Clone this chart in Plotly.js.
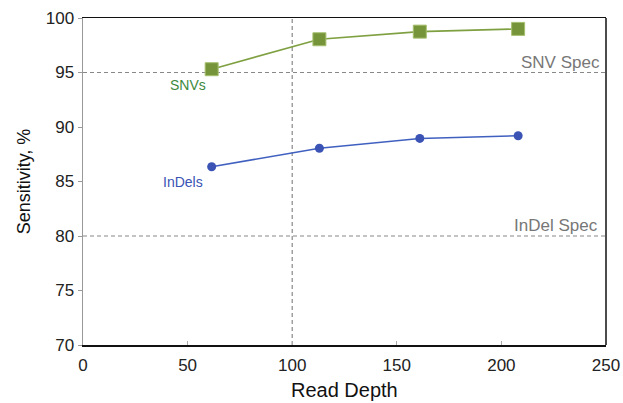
<!DOCTYPE html>
<html>
<head>
<meta charset="utf-8">
<script src="https://cdn.plot.ly/plotly-3.0.1.min.js"></script>
<style>html,body{margin:0;padding:0;background:#fff;}#chart{width:623px;height:403px;}</style>
</head>
<body>
<div id="chart"></div>
<script>
const readDepth = [61.5, 113, 161, 208];
const snvSensitivity = [95.3, 98.05, 98.75, 99.0];
const indelSensitivity = [86.35, 88.05, 88.95, 89.2];
const snvSpec = 95;
const indelSpec = 80;
const depthMarker = 100;
const xTicks = [0, 50, 100, 150, 200, 250];
const yTicks = [70, 75, 80, 85, 90, 95, 100];

const green = '#76953a';
const blue = '#3a53b5';
const font = 'Liberation Sans, Arial, Helvetica, sans-serif';

const traces = [
  {x: readDepth, y: snvSensitivity, mode: 'lines+markers', type: 'scatter',
   line: {color: '#7fa040', width: 1.6},
   marker: {symbol: 'square', size: 13, color: green, line: {color: '#a6c070', width: 1}},
   showlegend: false, hoverinfo: 'none'},
  {x: readDepth, y: indelSensitivity, mode: 'lines+markers', type: 'scatter',
   line: {color: '#4060c0', width: 1.6},
   marker: {symbol: 'circle', size: 9, color: blue},
   showlegend: false, hoverinfo: 'none'}
];

const dash = {color: '#888', width: 1.2, dash: '4px,3px'};
const layout = {
  width: 623, height: 403,
  margin: {l: 83, r: 17, t: 18, b: 58},
  paper_bgcolor: '#fff', plot_bgcolor: '#fff',
  font: {family: font, color: '#222', size: 17},
  xaxis: {range: [0, 250], tickvals: xTicks, ticktext: xTicks.map(String),
    showgrid: false, zeroline: false, showline: true, linecolor: '#111', linewidth: 1.5, mirror: true,
    ticks: 'inside', ticklen: 4, tickcolor: '#aaa', tickfont: {size: 17, color: '#222'},
    ticklabelstandoff: 4},
  yaxis: {range: [70, 100], tickvals: yTicks, ticktext: yTicks.map(String),
    showgrid: false, zeroline: false, showline: true, linecolor: '#999', linewidth: 1.5,
    ticks: 'outside', ticklen: 4, tickcolor: '#999', tickfont: {size: 17, color: '#222'},
    title: {text: 'Sensitivity, %', font: {size: 18, color: '#111'}, standoff: 10}},
  shapes: [
    {type: 'line', xref: 'paper', yref: 'y', x0: 0, x1: 1, y0: snvSpec, y1: snvSpec, line: dash, layer: 'below'},
    {type: 'line', xref: 'paper', yref: 'y', x0: 0, x1: 1, y0: indelSpec, y1: indelSpec, line: dash, layer: 'below'},
    {type: 'line', xref: 'x', yref: 'paper', x0: depthMarker, x1: depthMarker, y0: 0, y1: 1, line: dash, layer: 'below'},
    {type: 'line', xref: 'paper', yref: 'paper', x0: 1, x1: 1, y0: 0, y1: 1, line: {color: '#111', width: 1.5}}
  ],
  annotations: [
    {x: 0.5, y: -0.138, xref: 'paper', yref: 'paper', text: 'Read Depth', showarrow: false,
     xanchor: 'center', yanchor: 'middle', font: {size: 20, color: '#111'}},
    {x: readDepth[0], y: snvSensitivity[0], xref: 'x', yref: 'y', text: 'SNVs', showarrow: false,
     xanchor: 'right', yanchor: 'top', xshift: -4, yshift: -6, font: {size: 14, color: '#3d8a3d'}},
    {x: readDepth[0], y: indelSensitivity[0], xref: 'x', yref: 'y', text: 'InDels', showarrow: false,
     xanchor: 'right', yanchor: 'top', xshift: -7, yshift: -5, font: {size: 14, color: '#3a53b5'}},
    {x: 1, y: snvSpec, xref: 'paper', yref: 'y', text: 'SNV Spec', showarrow: false,
     xanchor: 'right', yanchor: 'bottom', xshift: -4, yshift: -1, font: {size: 17, color: '#777'}},
    {x: 1, y: indelSpec, xref: 'paper', yref: 'y', text: 'InDel Spec', showarrow: false,
     xanchor: 'right', yanchor: 'bottom', xshift: -6, yshift: -1, font: {size: 17, color: '#777'}}
  ]
};

Plotly.newPlot('chart', traces, layout, {staticPlot: true, displayModeBar: false});
</script>
</body>
</html>
